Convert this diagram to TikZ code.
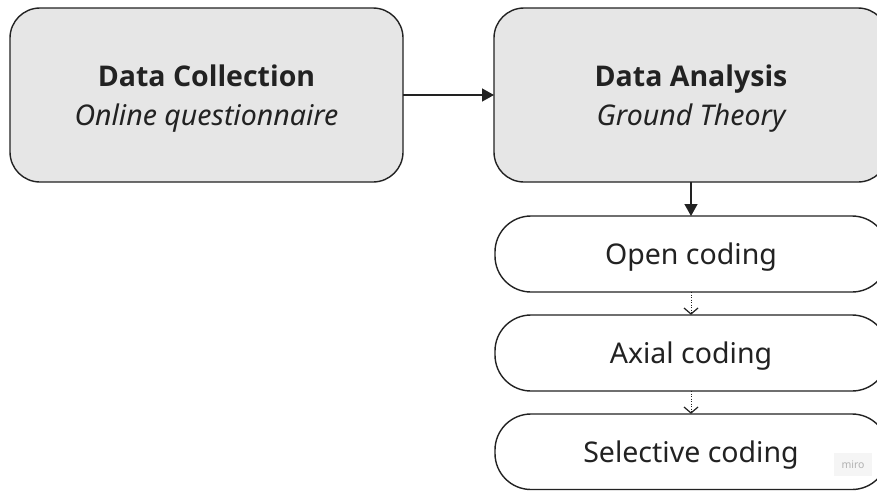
\documentclass[tikz,border=0pt]{standalone}
\usepackage{fontspec}
\setmainfont{Noto Sans}
\newfontfamily\hdfont{Open Sans}
\usetikzlibrary{arrows.meta}
\definecolor{boxfill}{HTML}{E6E6E6}
\definecolor{ink}{HTML}{222222}
\tikzset{
  mainbox/.style={draw=ink, line width=1.4pt, fill=boxfill, rounded corners=30pt},
  codebox/.style={draw=ink, line width=1.4pt, fill=white, rounded corners=36pt},
  lbl/.style={text=ink, font=\fontsize{28.5}{32}\selectfont, inner sep=0pt, anchor=base},
  solidarrow/.style={draw=ink, line width=1.4pt, -{Triangle[length=12pt,width=13pt]}},
  dotline/.style={draw=ink, line width=1pt, dash pattern=on 1pt off 1.5pt},
  vhead/.style={draw=ink, line width=1.2pt, solid, line join=miter}
}
\begin{document}
\begin{tikzpicture}[x=1pt,y=-1pt]
\useasboundingbox (0,0) rectangle (877,490);
\clip (0,0) rectangle (877,490);
\fill[white] (0,0) rectangle (877,490);
% main boxes
\draw[mainbox] (10,8) rectangle (403,182);
\coordinate (dcE) at (403,95);
\draw[mainbox] (494,8) rectangle (888,182);
\coordinate (daW) at (494,95);
\coordinate (daS) at (691,182);
\node[lbl, font=\fontsize{28.5}{32}\selectfont\hdfont\bfseries] (t1) at (206.5,86) {Data Collection};
\node[lbl, font=\fontsize{28.5}{32}\selectfont\itshape] (t2) at (206.5,125) {Online questionnaire};
\node[lbl, font=\fontsize{28.5}{32}\selectfont\hdfont\bfseries] (t3) at (691,86) {Data Analysis};
\node[lbl, font=\fontsize{28.5}{32}\selectfont\itshape] (t4) at (691,125) {Ground Theory};
% coding boxes
\draw[codebox] (495,216) rectangle (888,292);
\draw[codebox] (495,315) rectangle (888,391);
\draw[codebox] (495,414) rectangle (888,489.5);
\coordinate (ocN) at (691,216);
\coordinate (ocS) at (691,292);
\coordinate (acN) at (691,314);
\coordinate (acS) at (691,391);
\coordinate (scN) at (691,413);
\node[lbl] (oc) at (691,264) {Open coding};
\node[lbl] (ac) at (691,363) {Axial coding};
\node[lbl] (sc) at (691,462) {Selective coding};
% connectors
\draw[solidarrow] (dcE) -- (daW);
\draw[solidarrow] (daS) -- (ocN);
\draw[dotline] (ocS) -- (acN);
\draw[vhead] ([xshift=-7pt,yshift=6pt]acN) -- (acN) -- ([xshift=7pt,yshift=6pt]acN);
\draw[dotline] (acS) -- (scN);
\draw[vhead] ([xshift=-7pt,yshift=6pt]scN) -- (scN) -- ([xshift=7pt,yshift=6pt]scN);
% watermark
\fill[white!96!black] (834,453) rectangle (872,476);
\node[text=black!30, font=\fontsize{10.5}{12}\selectfont, anchor=center] (wm) at (853,465) {miro};
\end{tikzpicture}
\end{document}
